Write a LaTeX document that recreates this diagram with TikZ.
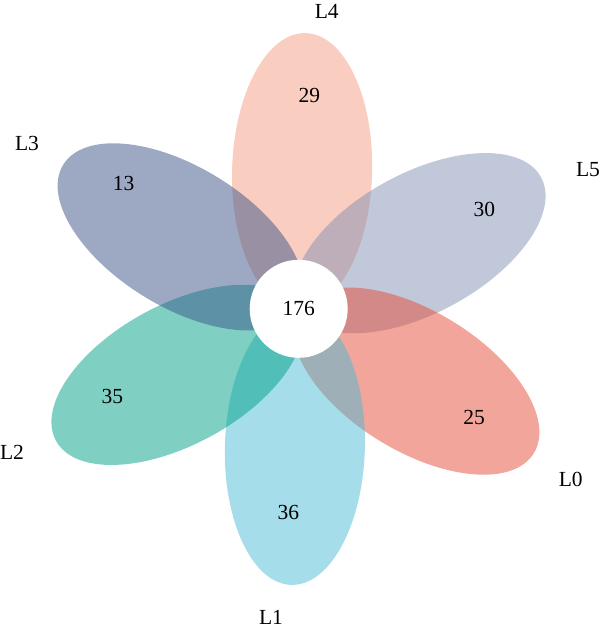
\documentclass[tikz,border=0pt]{standalone}
\usepackage{fontspec}
\setmainfont{Liberation Serif}
\definecolor{cL0}{HTML}{E64B35}
\definecolor{cL1}{HTML}{4DBBD5}
\definecolor{cL2}{HTML}{00A087}
\definecolor{cL3}{HTML}{3C5488}
\definecolor{cL4}{HTML}{F39B7F}
\definecolor{cL5}{HTML}{8491B4}
\tikzset{
  petal/.style={fill=#1, fill opacity=0.5, draw=none},
  lbl/.style={font=\fontsize{21.5}{25}\selectfont, inner sep=0pt, text=black},
}
\begin{document}
\begin{tikzpicture}[x=1pt,y=-1pt]
\useasboundingbox (0,0) rectangle (600,629);
\coordinate (C) at (298.5,309);
% petals, drawn in stacking order
\foreach \ang/\col in {88.5/cL4, 28.5/cL5, -31.5/cL0, -91.5/cL1, -151.5/cL2, 148.5/cL3}{
  \begin{scope}[shift={(C)}, rotate=\ang]
    \fill[petal=\col] (138pt,0pt) ellipse [x radius=138pt, y radius=70pt];
  \end{scope}
}
\node[circle, fill=white, minimum size=98pt, inner sep=0pt] (core) at (298.7,308.8) {};
\node[lbl] (n176) at (core) {176};
% counts
\node[lbl] (n29) at (309.3,95) {29};
\node[lbl] (n13) at (123.6,183) {13};
\node[lbl] (n30) at (484.3,209) {30};
\node[lbl] (n25) at (474,417) {25};
\node[lbl] (n36) at (288.3,512.3) {36};
\node[lbl] (n35) at (112.3,396.7) {35};
% set names
\node[lbl] (L4) at (326.7,11) {L4};
\node[lbl] (L3) at (27,143.3) {L3};
\node[lbl] (L5) at (588,170) {L5};
\node[lbl] (L0) at (570.7,479.3) {L0};
\node[lbl] (L1) at (271,617) {L1};
\node[lbl] (L2) at (12,452.3) {L2};
\end{tikzpicture}
\end{document}
